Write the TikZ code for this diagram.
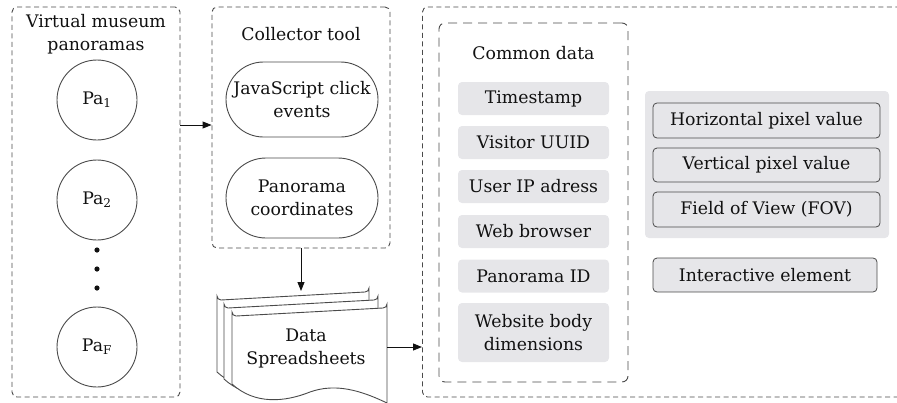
\documentclass[tikz,border=0pt]{standalone}
\usepackage{fontspec}
\setmainfont{DejaVu Serif}
\usetikzlibrary{arrows.meta,shapes.misc}
\definecolor{ln}{HTML}{4A4A4A}
\definecolor{tx}{HTML}{111111}
\definecolor{gf}{HTML}{E6E6E9}
\begin{document}
\begin{tikzpicture}[x=1pt,y=-1pt,
  every node/.style={font=\fontsize{17.3}{23}\selectfont, text=tx, align=center, inner sep=0pt},
  dbox/.style={draw=ln, line width=0.9pt, dash pattern=on 5pt off 3.5pt, rounded corners=5pt},
  ibox/.style={draw=ln, line width=0.9pt, dash pattern=on 9pt off 6pt, rounded corners=6pt},
  circ/.style={circle, draw=ln, line width=0.9pt, minimum size=80pt},
  pill/.style={rounded rectangle, draw=ln, line width=0.9pt, minimum width=152pt},
  gbox/.style={rectangle, fill=gf, rounded corners=4pt, minimum width=151pt, minimum height=33pt},
  bbox/.style={rectangle, fill=gf, draw=ln, line width=0.8pt, rounded corners=4pt, minimum height=35pt},
  arr/.style={draw=tx, line width=0.9pt, -{Triangle[length=9pt,width=7pt]}},
  page/.style={draw=ln, line width=0.9pt, fill=white}]
\useasboundingbox (0,0) rectangle (897,402);
\begin{scope}
\clip (0,0) rectangle (897,402);
% left box
\node[dbox, minimum width=168pt, minimum height=390pt] (left) at (96,202) {};
\node (ltitle) at (96,34) {Virtual museum\\panoramas};
\node[circ] (pa1) at (97,100) {Pa\textsubscript{1}};
\node[circ] (pa2) at (97,200) {Pa\textsubscript{2}};
\node[circ] (paf) at (97,347) {Pa\textsubscript{F}};
\foreach \yy in {250,269,288}
  \fill[tx] (97,\yy) circle (2.6pt);
% collector box
\node[dbox, minimum width=178pt, minimum height=241pt] (coll) at (301,127.5) {};
\node (ctitle) at (301,34) {Collector tool};
\node[pill, minimum height=75pt] (js) at (302,99.5) {JavaScript click\\events};
\node[pill, minimum height=80pt] (pc) at (302,198) {Panorama\\coordinates};
% stack of sheets: \dx, top shift \dt, bottom shift \db, right shift \dr
\foreach \dx/\dt/\db/\dr in {-15/-16/-12/-18,-8/-8/-5/-9,0/0/0/0}{
  \path[page] ({232+\dx},{384+\db}) -- ({232+\dx},{312+\dt}) arc[start angle=180,end angle=90,radius=4]
    -- ({383+\dr},{308+\dt}) arc[start angle=90,end angle=0,radius=4]
    -- ({387+\dr},{403+\db})
    .. controls ({360+\dr},{390+\db}) and ({335+\dx},{383+\db}) .. ({310+\dx},{392+\db})
    .. controls ({285+\dx},{402+\db}) and ({255+\dx},{405+\db}) .. ({232+\dx},{384+\db});
}
\node (sheet) at (306,348) {Data\\Spreadsheets};
\coordinate (sheetN) at (301,291);
\coordinate (sheetE) at (387,347);
% big right box
\node[dbox, minimum width=500pt, minimum height=390pt, anchor=west] (big) at (422,202) {};
\node[ibox, minimum width=189pt, minimum height=359pt] (common) at (533.5,202.5) {};
\node (comtitle) at (533.5,53) {Common data};
\node[gbox] (ts) at (533.5,98.5) {Timestamp};
\node[gbox] (uuid) at (533.5,142.5) {Visitor UUID};
\node[gbox] (ip) at (533.5,186.5) {User IP adress};
\node[gbox] (wb) at (533.5,231.5) {Web browser};
\node[gbox] (pid) at (533.5,276) {Panorama ID};
\node[gbox, minimum height=59pt] (wbd) at (533.5,332.5) {Website body\\dimensions};
% right group
\node[rectangle, fill=gf, rounded corners=4pt, minimum width=244pt, minimum height=147pt] (grp) at (767,164.5) {};
\node[bbox, minimum width=227pt] (hpv) at (766.5,120.5) {Horizontal pixel value};
\node[bbox, minimum width=227pt, minimum height=34pt] (vpv) at (766.5,165) {Vertical pixel value};
\node[bbox, minimum width=227pt] (fov) at (766.5,209.5) {Field of View (FOV)};
\node[bbox, minimum width=224pt, minimum height=34pt] (ie) at (765,275) {Interactive element};
% arrows
\draw[arr] (left.east |- 0,125) -- (coll.west |- 0,125);
\draw[arr] (coll.south -| sheetN) -- (sheetN);
\draw[arr] (sheetE) -- (big.west |- sheetE);
\end{scope}
\end{tikzpicture}
\end{document}
